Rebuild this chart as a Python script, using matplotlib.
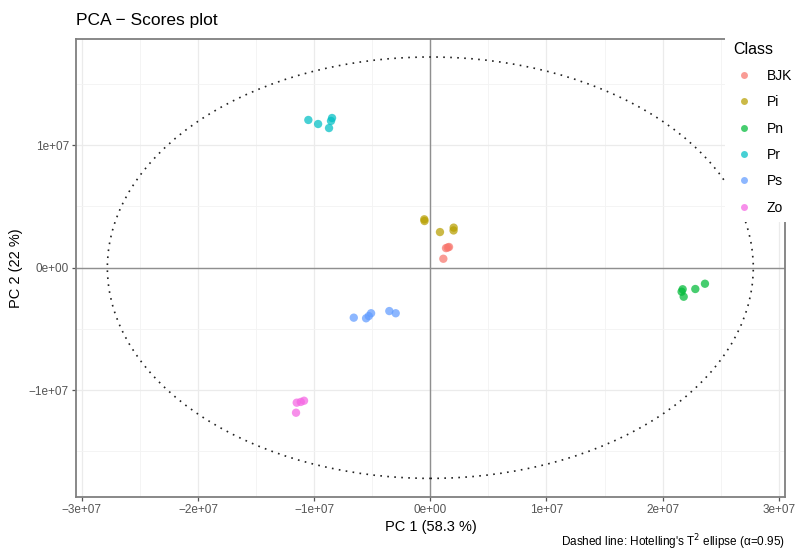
import numpy as np
import matplotlib
matplotlib.use("Agg")
import matplotlib.pyplot as plt
from matplotlib.patches import Ellipse, Rectangle
from matplotlib.ticker import MultipleLocator, FuncFormatter
from matplotlib.lines import Line2D

plt.rcParams['font.family'] = ['Liberation Sans', 'DejaVu Sans']

classes = ["BJK", "Pi", "Pn", "Pr", "Ps", "Zo"]
colors = ["#F8766D", "#B79F00", "#00BA38", "#00BFC4", "#619CFF", "#F564E3"]

bjk_x = [1.61e6, 1.35e6, 1.12e6, 1.50e6]
bjk_y = [1.69e6, 1.60e6, 0.73e6, 1.65e6]
pi_x = [-0.52e6, -0.50e6, 0.83e6, 2.01e6, 2.00e6]
pi_y = [3.95e6, 3.81e6, 2.91e6, 3.27e6, 3.04e6]
pn_x = [2.172e7, 2.163e7, 2.181e7, 2.281e7, 2.364e7]
pn_y = [-1.76e6, -1.96e6, -2.37e6, -1.74e6, -1.31e6]
pr_x = [-1.05e7, -0.966e7, -0.872e7, -0.846e7, -0.855e7]
pr_y = [1.206e7, 1.173e7, 1.140e7, 1.222e7, 1.198e7]
ps_x = [-6.59e6, -5.53e6, -5.10e6, -3.53e6, -2.98e6, -5.30e6]
ps_y = [-4.08e6, -4.13e6, -3.72e6, -3.54e6, -3.72e6, -3.95e6]
zo_x = [-1.150e7, -1.115e7, -1.087e7, -1.156e7]
zo_y = [-1.102e7, -1.096e7, -1.086e7, -1.184e7]

xs = [bjk_x, pi_x, pn_x, pr_x, ps_x, zo_x]
ys = [bjk_y, pi_y, pn_y, pr_y, ps_y, zo_y]

ellipse_a = 2.78e7
ellipse_b = 1.72e7

W, H = 795, 553
fig = plt.figure(figsize=(W / 100, H / 100), dpi=100)
ax = fig.add_axes([76 / W, 1 - 497 / H, (785 - 76) / W, (497 - 39) / H])

ax.set_xlim(-3.05e7, 3.053e7)
ax.set_ylim(-1.872e7, 1.867e7)

ax.xaxis.set_major_locator(MultipleLocator(1e7))
ax.xaxis.set_minor_locator(MultipleLocator(5e6))
ax.yaxis.set_major_locator(MultipleLocator(1e7))
ax.yaxis.set_minor_locator(MultipleLocator(5e6))


def fmt(v, pos):
    if abs(v) < 1:
        return "0e+00"
    s = "%.0e" % v
    return s.replace("-", "\u2212")


ax.xaxis.set_major_formatter(FuncFormatter(fmt))
ax.yaxis.set_major_formatter(FuncFormatter(fmt))

ax.grid(True, which="major", color="#EBEBEB", lw=0.9, zorder=0)
ax.grid(True, which="minor", color="#F3F3F3", lw=0.6, zorder=0)
ax.set_axisbelow(True)

ax.axhline(0, color="#8F8F8F", lw=1.0, zorder=1)
ax.axvline(0, color="#8F8F8F", lw=1.0, zorder=1)

ell = Ellipse((0, 0), 2 * ellipse_a, 2 * ellipse_b, fill=False, edgecolor="#222222",
              linestyle=(0, (1, 3.2)), lw=1.2, zorder=2)
ax.add_patch(ell)

for cx, cy, c in zip(xs, ys, colors):
    ax.scatter(cx, cy, s=36, color=c, alpha=0.72, edgecolors="none", zorder=3)

for sp in ax.spines.values():
    sp.set_color("#7F7F7F")
    sp.set_linewidth(1.3)

ax.tick_params(axis="both", which="major", length=3, width=0.9, color="#555555",
               labelsize=8.5, labelcolor="#555555", pad=2)
ax.tick_params(axis="both", which="minor", length=0)

ax.set_xlabel("PC 1 (58.3 %)", fontsize=10.5, labelpad=3)
ax.set_ylabel("PC 2 (22 %)", fontsize=10.5, labelpad=4)

fig.text(76 / W, 1 - 20 / H, "PCA \u2212 Scores plot", fontsize=12.5, va="center", ha="left")

fig.text(785 / W, 1 - 542 / H, "Dashed line: Hotelling's T$^2$ ellipse (\u03b1=0.95)",
         fontsize=8.5, ha="right", va="center",
         family=["Liberation Sans Narrow", "Liberation Sans", "DejaVu Sans"])

# legend area (white background covering panel edge)
fig.add_artist(Rectangle((725 / W, 1 - 222 / H), (W - 725) / W, (222 - 28) / H,
                         transform=fig.transFigure, facecolor="white", edgecolor="none", zorder=1))

handles = [Line2D([0], [0], marker="o", linestyle="none", markersize=5, markerfacecolor=c,
                  markeredgecolor="none", alpha=0.72) for c in colors]
leg = fig.legend(handles, classes, title="Class", loc="upper left",
                 bbox_to_anchor=(728 / W, 1 - 36 / H), frameon=False, fontsize=10,
                 title_fontsize=11.5, labelspacing=0.89, handletextpad=0.9,
                 handlelength=1.5, borderaxespad=0)
leg._legend_box.align = "left"
leg.set_zorder(5)

fig.savefig("out.png", dpi=100)
